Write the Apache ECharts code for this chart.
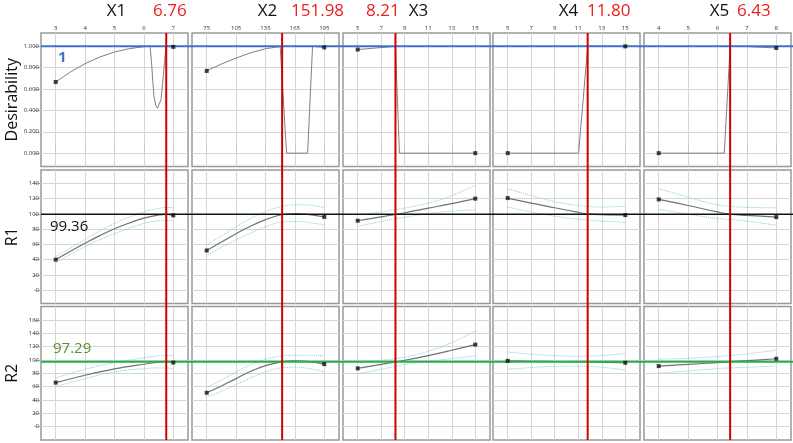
<!DOCTYPE html>
<html><head><meta charset="utf-8">
<script src="https://cdn.jsdelivr.net/npm/echarts@6/dist/echarts.min.js"></script>
<style>html,body{margin:0;padding:0;background:#fff}#c{width:793px;height:443px}</style>
</head><body><div id="c"></div>
<script>
// ---------- data ----------
const factors = ['X1', 'X2', 'X3', 'X4', 'X5'];
const optimum = [6.76, 151.98, 8.21, 11.80, 6.43];
const optimumLabels = ['6.76', '151.98', '8.21', '11.80', '6.43'];
const xTicksX1 = [3, 4, 5, 6, 7];
const xTicksX2 = [75, 105, 135, 165, 195];
const xTicksX3 = [5, 7, 9, 11, 13, 15];
const xTicksX4 = [5, 7, 9, 11, 13, 15];
const xTicksX5 = [4, 5, 6, 7, 8];
const rowNames = ['Desirability', 'R1', 'R2'];
const desirTicks = [0, 0.2, 0.4, 0.6, 0.8, 1.0];
const r1Ticks = [0, 20, 40, 60, 80, 100, 120, 140];
const r2Ticks = [0, 20, 40, 60, 80, 100, 120, 140, 160];
const desirValue = 1;
const r1Value = 99.36;
const r2Value = 97.29;

// Desirability curves
const desirX1 = [[3,0.666],[3.5,0.76],[4,0.838],[4.5,0.9],[5,0.947],[5.5,0.978],[6,0.997],[6.21,1],[6.26,0.85],[6.3,0.68],[6.34,0.54],[6.4,0.45],[6.46,0.42],[6.52,0.43],[6.58,0.5],[6.64,0.66],[6.7,0.85],[6.75,1],[7,0.995]];
const desirX2 = [[75,0.77],[90,0.835],[105,0.89],[120,0.94],[135,0.978],[150,0.998],[152,1],[156.5,0],[178,0],[183,1],[195,0.99]];
const desirX3 = [[5,0.97],[8.21,1],[8.55,0],[15,0]];
const desirX4 = [[5,0],[11.03,0],[11.8,1],[15,1]];
const desirX5 = [[4,0],[6.23,0],[6.43,1],[7,0.998],[8,0.985]];

// R1 mean / upper / lower
const r1MeanX1 = [[3,40],[3.5,51],[4,61.5],[4.5,71.5],[5,80.5],[5.5,88],[6,94.5],[6.5,98.5],[6.76,99.4],[7,98]];
const r1UpX1 = [[3,44],[4,66.5],[5,87.5],[6,102.5],[6.5,107],[6.76,108.5],[7,108]];
const r1LoX1 = [[3,36],[4,57],[5,74],[6,87.5],[6.5,91],[6.76,91.5],[7,90.5]];
const r1MeanX2 = [[75,52],[90,63],[105,74],[120,84],[135,92.5],[150,98.5],[165,100.5],[180,99],[195,96]];
const r1UpX2 = [[75,59],[90,71],[105,83],[120,94],[135,103],[150,109],[165,112],[180,111.5],[195,108]];
const r1LoX2 = [[75,46],[90,56],[105,66],[120,75],[135,83],[150,89],[165,90],[180,88.5],[195,85.5]];
const r1MeanX3 = [[5,91],[7,96],[9,101.5],[11,107.5],[13,113.5],[15,120]];
const r1UpX3 = [[5,99],[7,102.5],[9,107.5],[11,114],[13,124],[15,137.5]];
const r1LoX3 = [[5,83.5],[7,90],[9,95.5],[11,100.5],[13,103.5],[15,105.5]];
const r1MeanX4 = [[5,120.7],[7,114],[9,108],[11,102],[11.8,100],[13,99],[15,98.4]];
const r1UpX4 = [[5,133],[7,124],[9,116],[11,111],[13,109],[15,110]];
const r1LoX4 = [[5,109],[7,102.5],[9,97],[11,93],[13,90.5],[15,89]];
const r1MeanX5 = [[4,119],[5,111],[6,102.5],[6.43,99.5],[7,98],[8,95.8]];
const r1UpX5 = [[4,133],[5,122],[6,112],[7,108.5],[8,108]];
const r1LoX5 = [[4,106],[5,99.5],[6,94],[7,90.5],[8,85]];

// R2 mean / upper / lower
const r2MeanX1 = [[3,66],[4,77],[5,86.5],[6,93.5],[6.5,96.5],[6.76,97.3],[7,96]];
const r2UpX1 = [[3,73],[4,86],[5,96],[6,103],[6.76,106.5],[7,106.5]];
const r2LoX1 = [[3,60],[4,72],[5,82],[6,87],[6.76,88],[7,86.5]];
const r2MeanX2 = [[75,50.8],[90,61],[105,72],[120,83],[135,91.5],[150,96.8],[165,98.5],[180,97.5],[195,93.7]];
const r2UpX2 = [[75,59],[90,70],[105,82],[120,93],[135,101],[150,105.5],[165,107],[180,107],[195,106]];
const r2LoX2 = [[75,44],[90,53],[105,63],[120,73],[135,82],[150,88],[165,89],[180,87],[195,82]];
const r2MeanX3 = [[5,87.3],[7,93.3],[9,99.5],[11,106.5],[13,114.5],[15,123]];
const r2UpX3 = [[5,97],[7,99.5],[9,104],[11,113],[13,126],[15,143]];
const r2LoX3 = [[5,79],[7,86],[9,93],[11,98],[13,102],[15,106]];
const r2MeanX4 = [[5,98.6],[7,98],[9,97.6],[11,97.3],[13,96.8],[15,95.7]];
const r2UpX4 = [[5,112],[7,108.5],[9,106.5],[11,105.5],[13,106.5],[15,109.7]];
const r2LoX4 = [[5,86],[7,88.5],[9,90.3],[11,90.5],[13,89],[15,84.7]];
const r2MeanX5 = [[4,90.7],[5,93.3],[6,96],[6.43,97.3],[7,98.8],[8,101.7]];
const r2UpX5 = [[4,101],[5,102.5],[6,105],[7,109],[8,114.6]];
const r2LoX5 = [[4,79.8],[5,83.5],[6,87],[7,89],[8,90.7]];

// ---------- build ----------
const xTicks = [xTicksX1, xTicksX2, xTicksX3, xTicksX4, xTicksX5];
const rowTicks = [desirTicks, r1Ticks, r2Ticks];
const desirCurves = [desirX1, desirX2, desirX3, desirX4, desirX5];
const rMeans = [[r1MeanX1, r1MeanX2, r1MeanX3, r1MeanX4, r1MeanX5], [r2MeanX1, r2MeanX2, r2MeanX3, r2MeanX4, r2MeanX5]];
const rUps = [[r1UpX1, r1UpX2, r1UpX3, r1UpX4, r1UpX5], [r2UpX1, r2UpX2, r2UpX3, r2UpX4, r2UpX5]];
const rLos = [[r1LoX1, r1LoX2, r1LoX3, r1LoX4, r1LoX5], [r2LoX1, r2LoX2, r2LoX3, r2LoX4, r2LoX5]];
const rowValues = [desirValue, r1Value, r2Value];

const FONT = 'Open Sans';
const gridLeft = [41, 192, 343, 493, 644];
const gridTop = [33, 170, 306.5];
const GW = 147, GH = 133.5;
const range = t => { const s = t[t.length - 1] - t[0]; return [t[0] - s * 0.125, t[t.length - 1] + s * 0.125]; };

const grids = [], xAxes = [], yAxes = [], series = [];
for (let r = 0; r < 3; r++) {
  for (let c = 0; c < 5; c++) {
    const idx = r * 5 + c;
    grids.push({ left: gridLeft[c], top: gridTop[r], width: GW, height: GH, show: true,
      borderColor: '#999999', borderWidth: 1.5, backgroundColor: '#fff' });
    const xr = range(xTicks[c]);
    xAxes.push({ gridIndex: idx, type: 'value', min: xr[0], max: xr[1], position: 'top',
      axisLine: { show: false },
      axisTick: { show: r === 0, length: 9, customValues: xTicks[c], lineStyle: { color: '#c8c8c8' } },
      axisLabel: { show: r === 0, customValues: xTicks[c], fontSize: 6, color: '#333', margin: 2, fontFamily: FONT },
      splitLine: { show: true, lineStyle: { color: '#d6d6d6', width: 1 } } });
    const yr = range(rowTicks[r]);
    yAxes.push({ gridIndex: idx, type: 'value', min: yr[0], max: yr[1],
      axisLine: { show: false },
      axisTick: { show: c === 0, length: 7, customValues: rowTicks[r], lineStyle: { color: '#b0b0b0' } },
      axisLabel: { show: c === 0, customValues: rowTicks[r], fontSize: 6, color: '#333', margin: 2, fontFamily: FONT,
        formatter: v => r === 0 ? v.toFixed(3) : String(Math.round(v)) },
      splitLine: { show: true, lineStyle: { color: '#d6d6d6', width: 1 } } });

    const base = { xAxisIndex: idx, yAxisIndex: idx, silent: true, animation: false };
    if (r === 0) {
      const d = desirCurves[c];
      series.push(Object.assign({ type: 'line', data: d, symbol: 'none', z: 3,
        lineStyle: { color: '#808080', width: 1 } }, base));
      series.push(Object.assign({ type: 'scatter', data: [d[0], d[d.length - 1]], symbol: 'rect', symbolSize: 4, z: 60,
        itemStyle: { color: '#111' } }, base));
    } else {
      const m = rMeans[r - 1][c], u = rUps[r - 1][c], l = rLos[r - 1][c];
      [u, l].forEach(ci => series.push(Object.assign({ type: 'line', data: ci, symbol: 'none', smooth: 0.4, z: 3,
        lineStyle: { color: '#86cfcf', width: 1, type: 'dotted' } }, base)));
      series.push(Object.assign({ type: 'line', data: m, symbol: 'none', smooth: 0.4, z: 4,
        lineStyle: { color: '#707070', width: 1.2 } }, base));
      series.push(Object.assign({ type: 'scatter', data: [m[0], m[m.length - 1]], symbol: 'rect', symbolSize: 4, z: 60,
        itemStyle: { color: '#111' } }, base));
    }
  }
}

const chart = echarts.init(document.getElementById('c'));
chart.setOption({ animation: false, grid: grids, xAxis: xAxes, yAxis: yAxes, series: series });

// continuous reference lines drawn through the library's scales
const g = [];
const hColors = ['#3a73c9', '#111111', '#22b04b'];
const hWidths = [2, 1.5, 2];
for (let r = 0; r < 3; r++) {
  const y = chart.convertToPixel({ yAxisIndex: r * 5 }, rowValues[r]);
  const x0 = chart.convertToPixel({ xAxisIndex: 0 }, range(xTicks[0])[0]);
  g.push({ type: 'line', z: 50, shape: { x1: x0, y1: y, x2: 793, y2: y }, style: { stroke: hColors[r], lineWidth: hWidths[r] } });
}
const yTop = chart.convertToPixel({ yAxisIndex: 0 }, range(desirTicks)[1]);
const yBot = chart.convertToPixel({ yAxisIndex: 10 }, range(r2Ticks)[0]);
const redLabelLeft = [153, 291, 366, 587, 737];
for (let c = 0; c < 5; c++) {
  const x = chart.convertToPixel({ xAxisIndex: c }, optimum[c]);
  g.push({ type: 'line', z: 55, shape: { x1: x, y1: yTop, x2: x, y2: yBot }, style: { stroke: '#d00000', lineWidth: 2 } });
  g.push({ type: 'text', z: 70, x: gridLeft[c] + GW / 2 + 2, y: 11,
    style: { text: factors[c], fontSize: 17, fontFamily: FONT, fill: '#111', align: 'center', verticalAlign: 'middle' } });
  g.push({ type: 'text', z: 70, x: redLabelLeft[c], y: 11,
    style: { text: optimumLabels[c], fontSize: 17, fontFamily: FONT, fill: '#ee1c1c', align: 'left', verticalAlign: 'middle' } });
}
for (let r = 0; r < 3; r++) {
  g.push({ type: 'text', z: 70, x: 12, y: gridTop[r] + GH / 2, rotation: Math.PI / 2,
    style: { text: rowNames[r], fontSize: 16, fontFamily: FONT, fill: '#111', align: 'center', verticalAlign: 'middle' } });
}
g.push({ type: 'text', z: 70, x: 58, y: 58, style: { text: String(desirValue), fontSize: 15, fontWeight: 'bold', fontFamily: FONT, fill: '#4472c4', align: 'left', verticalAlign: 'middle' } });
g.push({ type: 'text', z: 70, x: 50, y: 227, style: { text: r1Value.toFixed(2), fontSize: 15, fontFamily: FONT, fill: '#111', align: 'left', verticalAlign: 'middle' } });
g.push({ type: 'text', z: 70, x: 53, y: 349, style: { text: r2Value.toFixed(2), fontSize: 15, fontFamily: FONT, fill: '#5b8f34', align: 'left', verticalAlign: 'middle' } });
chart.setOption({ graphic: g });
</script>
</body></html>
